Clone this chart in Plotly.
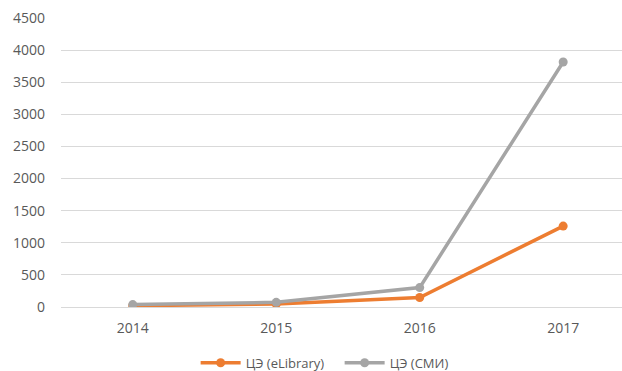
import plotly.graph_objects as go

years = ["2014", "2015", "2016", "2017"]
elibrary = [20, 47, 148, 1260]
smi = [38, 73, 302, 3815]
y_ticks = [0, 500, 1000, 1500, 2000, 2500, 3000, 3500, 4000, 4500]

fig = go.Figure()
fig.add_trace(go.Scatter(
    x=list(range(len(years))), y=elibrary, name="ЦЭ (eLibrary)",
    mode="lines+markers",
    line=dict(color="#ED7D31", width=3.5),
    marker=dict(size=9, color="#ED7D31"),
))
fig.add_trace(go.Scatter(
    x=list(range(len(years))), y=smi, name="ЦЭ (СМИ)",
    mode="lines+markers",
    line=dict(color="#A5A5A5", width=3.5),
    marker=dict(size=9, color="#A5A5A5"),
))

fig.update_layout(
    width=622, height=371,
    margin=dict(l=61, r=0, t=18, b=64, autoexpand=False),
    paper_bgcolor="white", plot_bgcolor="white",
    font=dict(family="Open Sans, Liberation Sans, sans-serif", size=14, color="#595959"),
    showlegend=True,
    legend=dict(orientation="h", x=0.24, xanchor="left",
                yref="container", y=0.022, yanchor="middle",
                font=dict(size=13, color="#595959"), traceorder="normal",
                itemwidth=40, entrywidth=89),
    xaxis=dict(
        range=[-0.5, 3.41], tickmode="array",
        tickvals=list(range(len(years))), ticktext=years,
        showgrid=False, zeroline=False, showline=False, ticks="",
        automargin=False, ticklabelstandoff=11,
    ),
    yaxis=dict(
        range=[0, 4500], tickmode="array", tickvals=y_ticks,
        ticktext=[str(v) for v in y_ticks],
        showgrid=True, gridcolor="#D9D9D9", gridwidth=1,
        zeroline=True, zerolinecolor="#D9D9D9", zerolinewidth=1,
        showline=False, ticks="", ticklabelstandoff=15,
        automargin=False,
    ),
)

fig.write_html("out.html")
